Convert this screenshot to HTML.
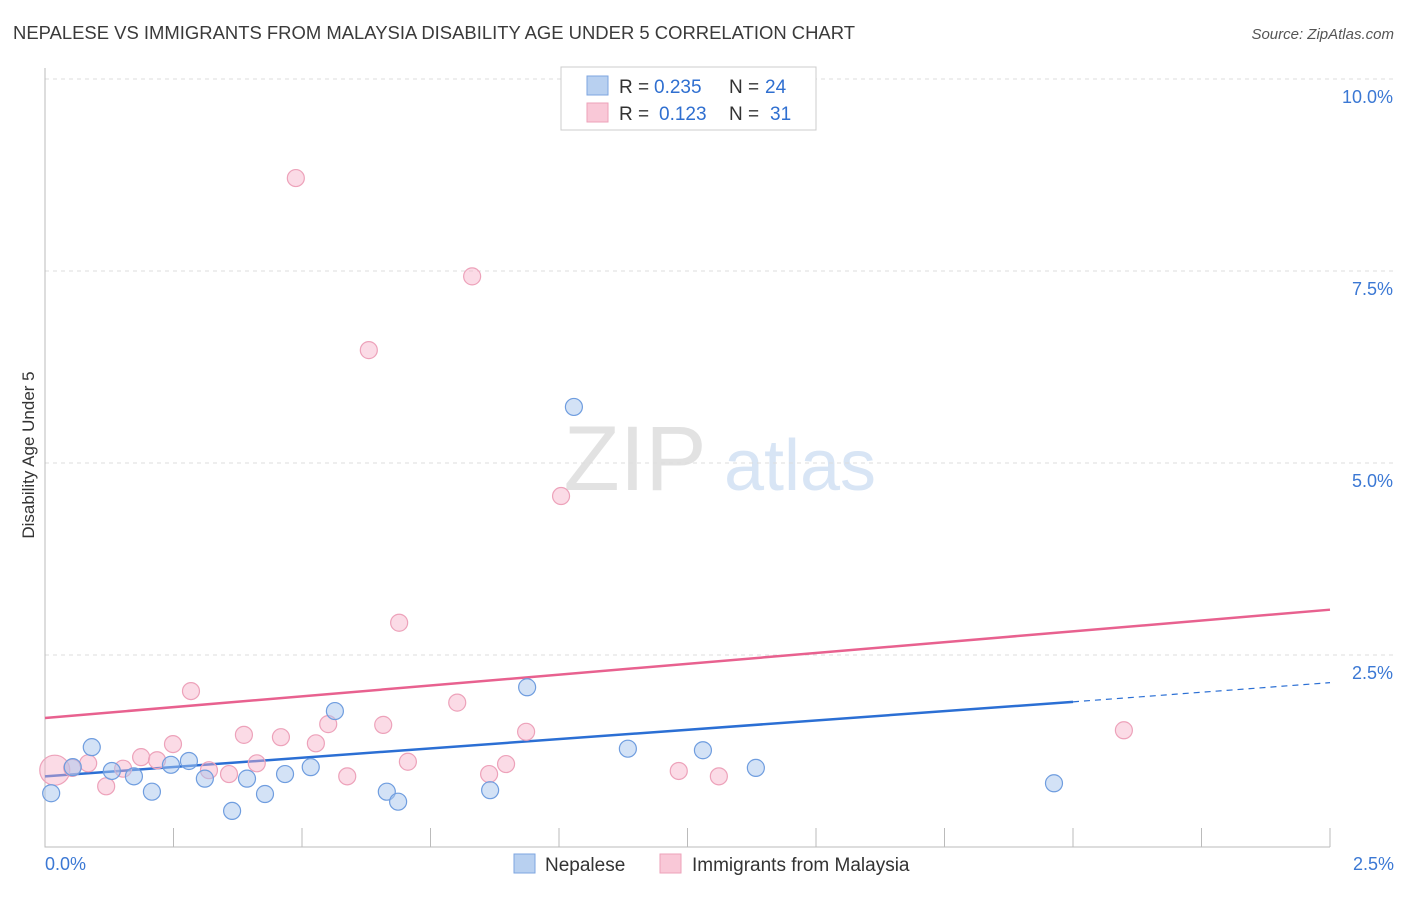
<!DOCTYPE html>
<html><head><meta charset="utf-8"><style>
body{margin:0;background:#fff;font-family:"Liberation Sans",sans-serif;}
svg text{font-family:"Liberation Sans",sans-serif;}
</style></head><body>
<svg id="chart" width="1406" height="892" viewBox="0 0 1406 892" xmlns="http://www.w3.org/2000/svg">
<text x="13" y="39" font-size="18" fill="#3a3a3a" textLength="842" lengthAdjust="spacingAndGlyphs">NEPALESE VS IMMIGRANTS FROM MALAYSIA DISABILITY AGE UNDER 5 CORRELATION CHART</text>
<text x="1394" y="39" font-size="15" fill="#555" font-style="italic" text-anchor="end">Source: ZipAtlas.com</text>
<text transform="translate(34,455) rotate(-90)" font-size="17" fill="#333" text-anchor="middle">Disability Age Under 5</text>
<g opacity="0.45">
<text x="635" y="490" font-size="92" fill="#c0c0c0" font-family="Liberation Serif" text-anchor="middle">ZIP</text>
<text x="800" y="490" font-size="72" fill="#a9c6ea" text-anchor="middle">atlas</text>
</g>
<g id="grid"></g><g id="axes"></g><g id="trend"></g><g id="points"></g>
<g>
<rect x="561" y="67" width="255" height="63" fill="#fff" stroke="#ccc"/>
<rect x="587" y="76" width="21" height="19" fill="#b8d0f0" stroke="#7ea6e0"/>
<rect x="587" y="103" width="21" height="19" fill="#f9c8d7" stroke="#eda2ba"/>
<text x="619" y="93" font-size="19" fill="#333">R =</text>
<text x="654" y="93" font-size="19" fill="#2f6fd0">0.235</text>
<text x="729" y="93" font-size="19" fill="#333">N =</text>
<text x="765" y="93" font-size="19" fill="#2f6fd0">24</text>
<text x="619" y="120" font-size="19" fill="#333">R =</text>
<text x="659" y="120" font-size="19" fill="#2f6fd0">0.123</text>
<text x="729" y="120" font-size="19" fill="#333">N =</text>
<text x="770" y="120" font-size="19" fill="#2f6fd0">31</text>
</g>
<g>
<rect x="514" y="854" width="21" height="19" fill="#b8d0f0" stroke="#7ea6e0"/>
<text x="545" y="871" font-size="19" fill="#333">Nepalese</text>
<rect x="660" y="854" width="21" height="19" fill="#f9c8d7" stroke="#eda2ba"/>
<text x="692" y="871" font-size="19" fill="#333">Immigrants from Malaysia</text>
</g>
</svg>
<script>
const yTicks=[2.5,5.0,7.5,10.0];
const yTickLabels=["2.5%","5.0%","7.5%","10.0%"];
const xTickLabels=["0.0%","2.5%"];
const nepX=[0.012,0.054,0.091,0.130,0.173,0.208,0.245,0.280,0.311,0.364,0.393,0.428,0.467,0.517,0.564,0.665,0.687,0.866,0.938,1.029,1.134,1.280,1.383,1.963];
const nepY=[0.70,1.04,1.30,0.99,0.92,0.72,1.07,1.12,0.89,0.47,0.89,0.69,0.95,1.04,1.77,0.72,0.59,0.74,2.08,5.73,1.28,1.26,1.03,0.83];
const malX=[0.019,0.053,0.084,0.119,0.152,0.187,0.218,0.249,0.284,0.319,0.358,0.387,0.412,0.459,0.488,0.527,0.551,0.588,0.630,0.658,0.689,0.706,0.802,0.831,0.864,0.897,0.936,1.004,1.233,1.311,2.099];
const malY=[1.00,1.03,1.09,0.79,1.02,1.17,1.13,1.34,2.03,1.00,0.95,1.46,1.09,1.43,8.71,1.35,1.60,0.92,6.47,1.59,2.92,1.11,1.88,7.43,0.95,1.08,1.50,4.57,0.99,0.92,1.52];
const nepTrend=[0.92,1.89,2.14]; // at x=0, 2.0, 2.5
const malTrend=[1.68,3.09]; // at x=0, 2.5
const NS="http://www.w3.org/2000/svg";
const X=v=>45+v/2.5*1285, Y=v=>847-v/2.5*192;
function mk(t,a,p){const e=document.createElementNS(NS,t);for(const k in a)e.setAttribute(k,a[k]);document.getElementById(p).appendChild(e);return e;}
yTicks.forEach((v,i)=>{
 const l=mk('line',{x1:45,x2:1394,y1:Y(v),y2:Y(v),stroke:'#ddd','stroke-dasharray':'4,4'},'grid');
 
 
 const t=mk('text',{x:1393,y:Y(v)+24,'font-size':18,fill:'#3b78d4','text-anchor':'end'},'grid');
 
 
 t.textContent=yTickLabels[i];
});
const ax=mk('path',{d:'M45 68 V847 H1330',stroke:'#bbb',fill:'none'},'axes');


for(let i=1;i<=10;i++){const tk=mk('line',{x1:X(i*0.25),x2:X(i*0.25),y1:828,y2:847,stroke:'#bbb'},'axes');
 
 }
[[0,'start',45],[2.5,'end',1394]].forEach((d,i)=>{const t=mk('text',{x:d[2],y:870,'font-size':18,fill:'#3b78d4','text-anchor':d[1]},'axes');
 
 
 t.textContent=xTickLabels[i];});
const pt=mk('line',{x1:X(0),y1:Y(malTrend[0]),x2:X(2.5),y2:Y(malTrend[1]),stroke:'#e8618f','stroke-width':2.5},'trend');


const bt=mk('line',{x1:X(0),y1:Y(nepTrend[0]),x2:X(2.0),y2:Y(nepTrend[1]),stroke:'#2b6fd4','stroke-width':2.5},'trend');


const bd=mk('line',{x1:X(2.0),y1:Y(nepTrend[1]),x2:X(2.5),y2:Y(nepTrend[2]),stroke:'#2b6fd4','stroke-width':1.2,'stroke-dasharray':'6,5'},'trend');


malX.forEach((x,i)=>{const c=mk('circle',{cx:X(x),cy:Y(malY[i]),r:i==0?15:8.5,fill:'rgba(246,176,200,0.45)',stroke:'#eda2ba','stroke-width':1.2},'points');
 
 });
nepX.forEach((x,i)=>{const c=mk('circle',{cx:X(x),cy:Y(nepY[i]),r:8.5,fill:'rgba(168,198,238,0.5)',stroke:'#6f9ddf','stroke-width':1.2},'points');
 
 });
</script>
</body></html>
